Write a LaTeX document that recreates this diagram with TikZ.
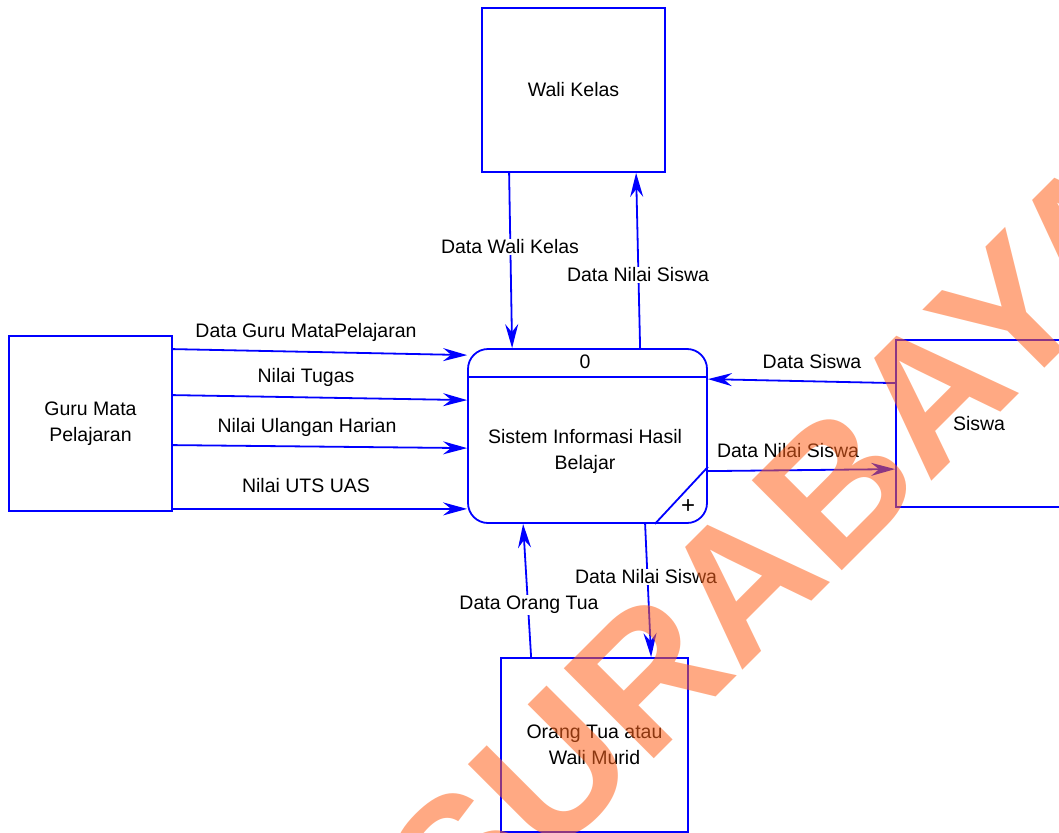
\documentclass[tikz,border=0pt]{standalone}
\usepackage{fontspec}
\setmainfont{Liberation Sans}
\usetikzlibrary{arrows.meta}
\definecolor{dfdblue}{RGB}{0,0,255}
\definecolor{wmorange}{RGB}{255,100,30}
\tikzset{
  entity/.style={draw=dfdblue, line width=1.8pt, rectangle, inner sep=0pt, align=center,
    font=\fontsize{19.5}{26}\selectfont},
  procbox/.style={draw=dfdblue, line width=1.8pt, rectangle, rounded corners=20pt, inner sep=0pt,
    minimum width=239pt, minimum height=174pt},
  flow/.style={draw=dfdblue, line width=1.8pt, -{Stealth[length=24pt,width=13pt,inset=8pt]}},
  lbl/.style={fill=white, inner sep=1pt, font=\fontsize{19.5}{24}\selectfont},
  ptext/.style={inner sep=0pt, align=center, font=\fontsize{19.5}{26}\selectfont},
  wmark/.style={text=wmorange, opacity=0.55, inner sep=0pt, rotate=45,
    font=\fontsize{185}{185}\selectfont\bfseries}
}
\begin{document}
\begin{tikzpicture}[x=1pt, y=-1pt]
\useasboundingbox (0,0) rectangle (1059,832);
\fill[white] (0,0) rectangle (1059,832);

% external entities
\node[entity, minimum width=183pt, minimum height=164pt] (wali) at (573.5,90) {Wali Kelas};
\node[entity, minimum width=163pt, minimum height=175pt] (guru) at (90.5,423.5) {Guru Mata\\Pelajaran};
\node[entity, minimum width=166pt, minimum height=167pt] (siswa) at (979,423.5) {Siswa};
\node[entity, minimum width=187pt, minimum height=174pt] (ortu) at (594.5,745) {Orang Tua atau\\Wali Murid};

% process
\node[procbox] (p) at (587.5,436) {};
\draw[draw=dfdblue, line width=1.8pt] ([yshift=-29pt]p.north west) -- ([yshift=-29pt]p.north east);
\draw[draw=dfdblue, line width=1.8pt] ([xshift=-53pt]p.south east) -- ([yshift=57pt]p.south east);
\node[ptext] (pnum) at (585,362) {0};
\node[ptext] (pname) at (585,451) {Sistem Informasi Hasil\\Belajar};
\node[inner sep=0pt, font=\fontsize{24}{24}\selectfont] (pplus) at (688,507) {+};

% flows from Guru
\draw[flow] ([yshift=-14pt]guru.north east) -- ([yshift=-7pt]p.north west);
\draw[flow] ([yshift=-60pt]guru.north east) -- ([yshift=-52pt]p.north west);
\draw[flow] ([yshift=-110pt]guru.north east) -- ([yshift=-100pt]p.north west);
\draw[flow] ([yshift=3pt]guru.south east) -- ([yshift=15pt]p.south west);
\node[lbl] (l1) at (306,332) {Data Guru MataPelajaran};
\node[lbl] (l2) at (306,377) {Nilai Tugas};
\node[lbl] (l3) at (307,427) {Nilai Ulangan Harian};
\node[lbl] (l4) at (306,486) {Nilai UTS UAS};

% Wali Kelas flows
\draw[flow] ([xshift=28pt]wali.south west) -- ([xshift=45pt]p.north west);
\draw[flow] ([xshift=173pt]p.north west) -- ([xshift=155pt]wali.south west);
\node[lbl] (l5) at (510,247) {Data Wali Kelas};
\node[lbl] (l6) at (638,275) {Data Nilai Siswa};

% Siswa flows
\draw[flow] ([yshift=-44pt]siswa.north west) -- ([yshift=-31pt]p.north east);
\draw[flow] ([yshift=-123pt]p.north east) -- ([yshift=-130pt]siswa.north west);
\node[lbl] (l7) at (812,362) {Data Siswa};
\node[lbl] (l8) at (788,451) {Data Nilai Siswa};

% Orang Tua flows
\draw[flow] ([xshift=178pt]p.south west) -- ([xshift=151pt]ortu.north west);
\draw[flow] ([xshift=31pt]ortu.north west) -- ([xshift=56pt]p.south west);
\node[lbl] (l9) at (646,577) {Data Nilai Siswa};
\node[lbl] (l10) at (529,605) {Data Orang Tua};

% watermark
\node[wmark] (wm) at (777,546) {SURABAYA};
\end{tikzpicture}
\end{document}
